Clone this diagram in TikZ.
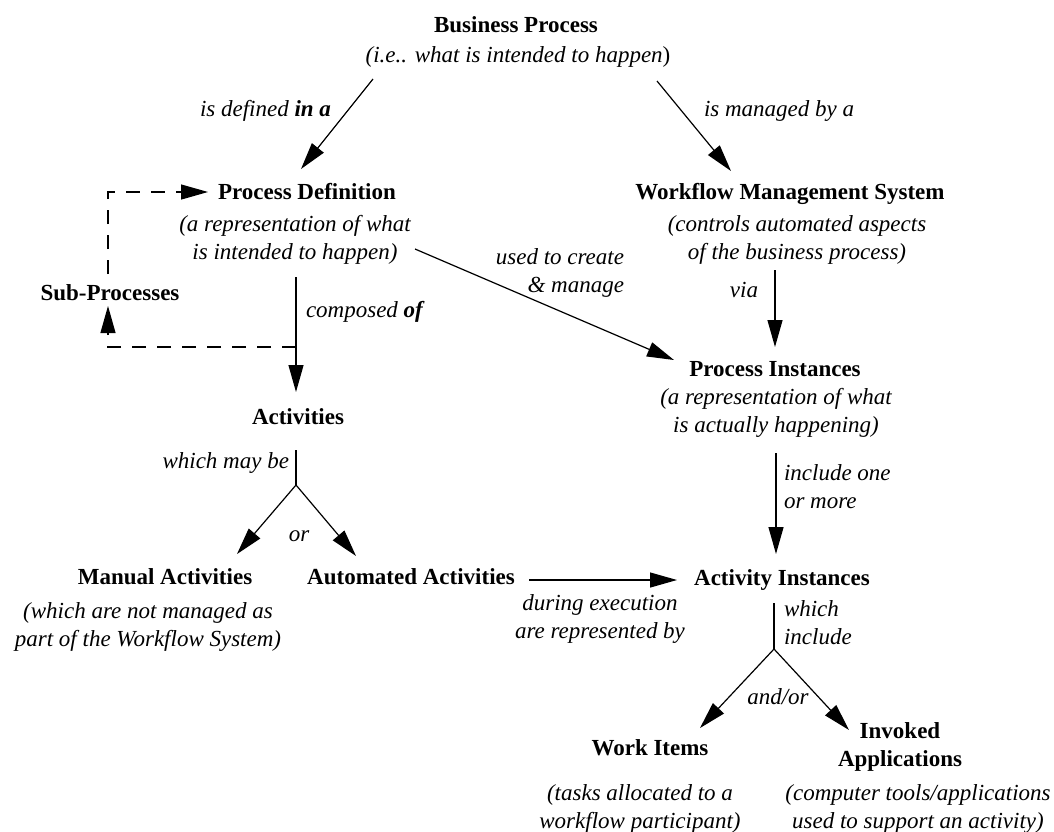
\documentclass[tikz,border=0pt]{standalone}
\usepackage{fontspec}
\setmainfont{Liberation Serif}
\usetikzlibrary{arrows.meta}

\begin{document}
\begin{tikzpicture}[x=1pt,y=-1pt,
  every node/.style={inner sep=0pt, outer sep=0pt},
  title/.style={font=\fontsize{23}{28}\selectfont\bfseries, align=center, anchor=base},
  desc/.style={font=\fontsize{23}{28}\selectfont\itshape, align=center, anchor=base},
  lbl/.style={font=\fontsize{23}{28}\selectfont\itshape, anchor=base},
  tip/.style={-{Triangle[length=27pt,width=15pt]}},
  link/.style={line width=1.2pt, tip},
  plain/.style={line width=1.2pt},
  dashlink/.style={line width=1.2pt, dash pattern=on 14pt off 11pt, tip}
]
\useasboundingbox (0,0) rectangle (1054,831);

% concepts (base anchor of a multi-line node = baseline of its last line)
\node[title] (bp)   at (516,32)  {Business Process};
\node[desc]  (bpd)  at (518,62)  {(i.e.. what is intended to happen\textup{)}};

\node[title] (pd)   at (307,199) {Process Definition};
\node[desc]  (pdd)  at (295,259) {(a representation of what\\is intended to happen)};

\node[title] (wms)  at (790,199) {Workflow Management System};
\node[desc]  (wmsd) at (797,259) {(controls automated aspects\\of the business process)};

\node[title] (sub)  at (110,300) {Sub-Processes};

\node[title] (pi)   at (775,376) {Process Instances};
\node[desc]  (pid)  at (776,432) {(a representation of what\\is actually happening)};

\node[title] (act)  at (298,424) {Activities};

\node[title] (man)  at (165,584) {Manual Activities};
\node[desc]  (mand) at (148,646) {(which are not managed as\\part of the Workflow System)};

\node[title] (auto) at (411,584) {Automated Activities};

\node[title] (ai)   at (782,585) {Activity Instances};

\node[title] (wi)   at (650,755) {Work Items};
\node[desc]  (wid)  at (640,828) {(tasks allocated to a\\workflow participant)};

\node[title] (inv)  at (900,766) {Invoked\\Applications};
\node[desc]  (invd) at (918,828) {(computer tools/applications\\used to support an activity)};

% relation labels
\node[lbl, anchor=base east] (l1) at (331,116) {is defined \textbf{in a}};
\node[lbl, anchor=base west] (l2) at (704,116) {is managed by a};
\node[lbl, anchor=base east, align=right] (l3) at (624,292) {used to create\\\& manage};
\node[lbl, anchor=base east] (l4) at (758,297) {via};
\node[lbl, anchor=base west] (l5) at (306,317) {composed \textbf{of}};
\node[lbl, anchor=base east] (l6) at (289,468) {which may be};
\node[lbl] (l7) at (299,541) {or};
\node[lbl, anchor=base west, align=left] (l8) at (784,508) {include one\\or more};
\node[lbl, align=center] (l9) at (600,638) {during execution\\are represented by};
\node[lbl, anchor=base west, align=left] (l10) at (784,644) {which\\include};
\node[lbl] (l11) at (778,704) {and/or};

% connector end points
\coordinate (bpL)    at (373,79);
\coordinate (pdT)    at (301,169);
\coordinate (bpR)    at (657,81);
\coordinate (wmsT)   at (731,171);
\coordinate (pdR)    at (415,249);
\coordinate (piL)    at (674,360);
\coordinate (wmsB)   at (775,270);
\coordinate (piT)    at (775,347);
\coordinate (pdB)    at (296,277);
\coordinate (actT)   at (296,392);
\coordinate (split)  at (296,347);
\coordinate (subB)   at (108,306);
\coordinate (subC)   at (108,347);
\coordinate (subT)   at (108,274);
\coordinate (loopC)  at (108,192);
\coordinate (pdL)    at (208,192);
\coordinate (actB)   at (296,450);
\coordinate (actFork) at (296,485);
\coordinate (manT)   at (237,554);
\coordinate (autoT)  at (356,556);
\coordinate (piB)    at (776,453);
\coordinate (aiT)    at (776,554);
\coordinate (autoR)  at (529,580);
\coordinate (aiL)    at (677,580);
\coordinate (aiB)    at (774,603);
\coordinate (aiFork) at (774,649);
\coordinate (wiT)    at (700,728);
\coordinate (invT)   at (849,730);

% connectors
\draw[link] (bpL) -- (pdT);
\draw[link] (bpR) -- (wmsT);
\draw[link] (pdR) -- (piL);
\draw[link] (wmsB) -- (piT);
\draw[link] (pdB) -- (actT);
\draw[dashlink] (split) -- (subC) -- (subB);
\draw[dashlink] (subT) -- (loopC) -- (pdL);
\draw[plain] (actB) -- (actFork);
\draw[link] (actFork) -- (manT);
\draw[link] (actFork) -- (autoT);
\draw[link] (piB) -- (aiT);
\draw[link] (autoR) -- (aiL);
\draw[plain] (aiB) -- (aiFork);
\draw[link] (aiFork) -- (wiT);
\draw[link] (aiFork) -- (invT);
\end{tikzpicture}
\end{document}
